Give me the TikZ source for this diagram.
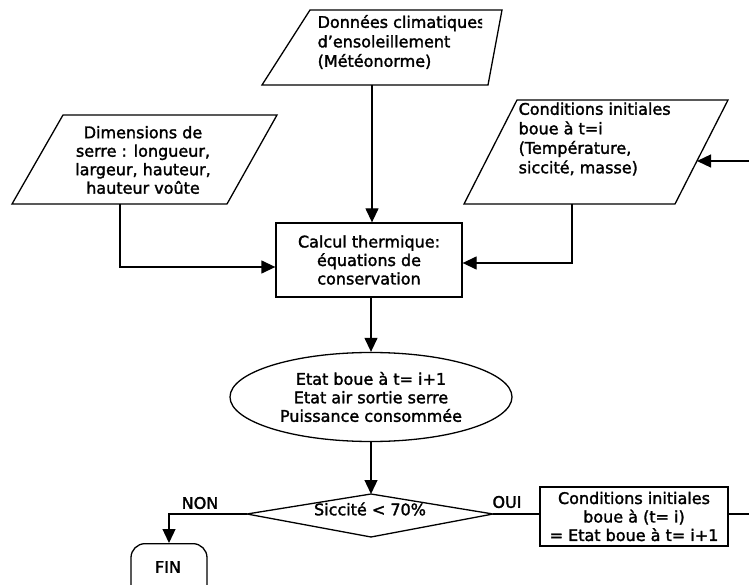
\documentclass[tikz,border=0pt]{standalone}
\usepackage{fontspec}
\setmainfont{DejaVu Sans}[FakeBold=1.8]
\usetikzlibrary{arrows.meta,shapes.geometric}
\begin{document}
\begin{tikzpicture}[x=1pt,y=-1pt,
  line width=1.3pt,
  arr/.style={-{Triangle[length=14pt,width=13pt]}},
  txt/.style={font=\fontsize{16}{18.5}\selectfont, inner sep=0pt},
  txtwide/.style={font=\fontsize{16}{19.5}\selectfont, inner sep=0pt},
  rectbox/.style={draw, rectangle, txt, align=center}
]
\clip (0,0) rectangle (749,585);
\fill[white] (0,0) rectangle (749,585);

% --- Donnees climatiques (parallelogram)
\draw (310,10) -- (502,10) -- (488,85) -- (262,85) -- cycle;
\coordinate (donB) at (372,85);
\begin{scope}
\clip (300,0) rectangle (482,85);
\node[txtwide, anchor=west, align=left] (don) at (317,42) {Données climatiques\\d’ensoleillement\\(Météonorme)};
\end{scope}

% --- Dimensions de serre (parallelogram)
\draw (63,115) -- (277,115) -- (227,204) -- (12,204) -- cycle;
\node[txt, align=center] (dim) at (143,160) {Dimensions de\\serre : longueur,\\largeur, hauteur,\\hauteur voûte};
\coordinate (dimB) at (120,204);

% --- Conditions initiales (parallelogram)
\draw (517,100) -- (728,100) -- (675,204) -- (464,204) -- cycle;
\node[txtwide, anchor=west, align=left] (cond) at (518,139) {Conditions initiales\\boue à t=i\\(Température,\\siccité, masse)};
\coordinate (condB) at (572,204);
\coordinate (condR) at (697,161);
\coordinate (loopT) at (749,161);

% --- Calcul thermique
\node[rectbox, minimum width=186pt, minimum height=74pt] (calc) at (369,260) {Calcul thermique:\\équations de\\conservation};

% --- Ellipse
\node[draw, ellipse, txt, align=center, minimum width=282pt, minimum height=89pt] (ell) at (371,397) {Etat boue à t= i+1\\Etat air sortie serre\\Puissance consommée};

% --- Decision
\coordinate (dt) at (371,494);
\coordinate (dr) at (493,514);
\coordinate (db) at (371,537);
\coordinate (dl) at (247,514);
\draw (dl) -- (dt) -- (dr) -- (db) -- cycle;
\node[txt] (sic) at (370,509) {Siccité < 70\%};

% --- Conditions initiales (bottom box)
\node[rectbox, minimum width=188pt, minimum height=59pt] (cinit) at (634,516.5) {Conditions initiales\\boue à (t= i)\\= Etat boue à t= i+1};
\coordinate (loopR) at (749,514);

% --- FIN
\node[draw, rounded corners=14pt, minimum width=76pt, minimum height=60pt, inner sep=0pt, anchor=north] (fin) at (169,543) {};
\node[txt] (fintxt) at (168,567) {FIN};

% --- labels
\node[txt] (non) at (200,503) {NON};
\node[txt] (oui) at (507,502) {OUI};

% --- connectors
\draw[arr] (donB) -- (donB |- calc.north);
\draw[arr] (dimB) |- ([yshift=-7pt]calc.west);
\draw[arr] (condB) |- ([yshift=-3pt]calc.east);
\draw[arr] (loopT) -- (condR);
\draw[arr] (ell.north |- calc.south) -- (ell.north);
\draw[arr] (ell.south) -- (dt);
\draw[arr] (dl) -| (fin.north);
\draw (dr) -- (dr -| cinit.west);
\draw (cinit.east |- loopR) -- (loopR);
\end{tikzpicture}
\end{document}
